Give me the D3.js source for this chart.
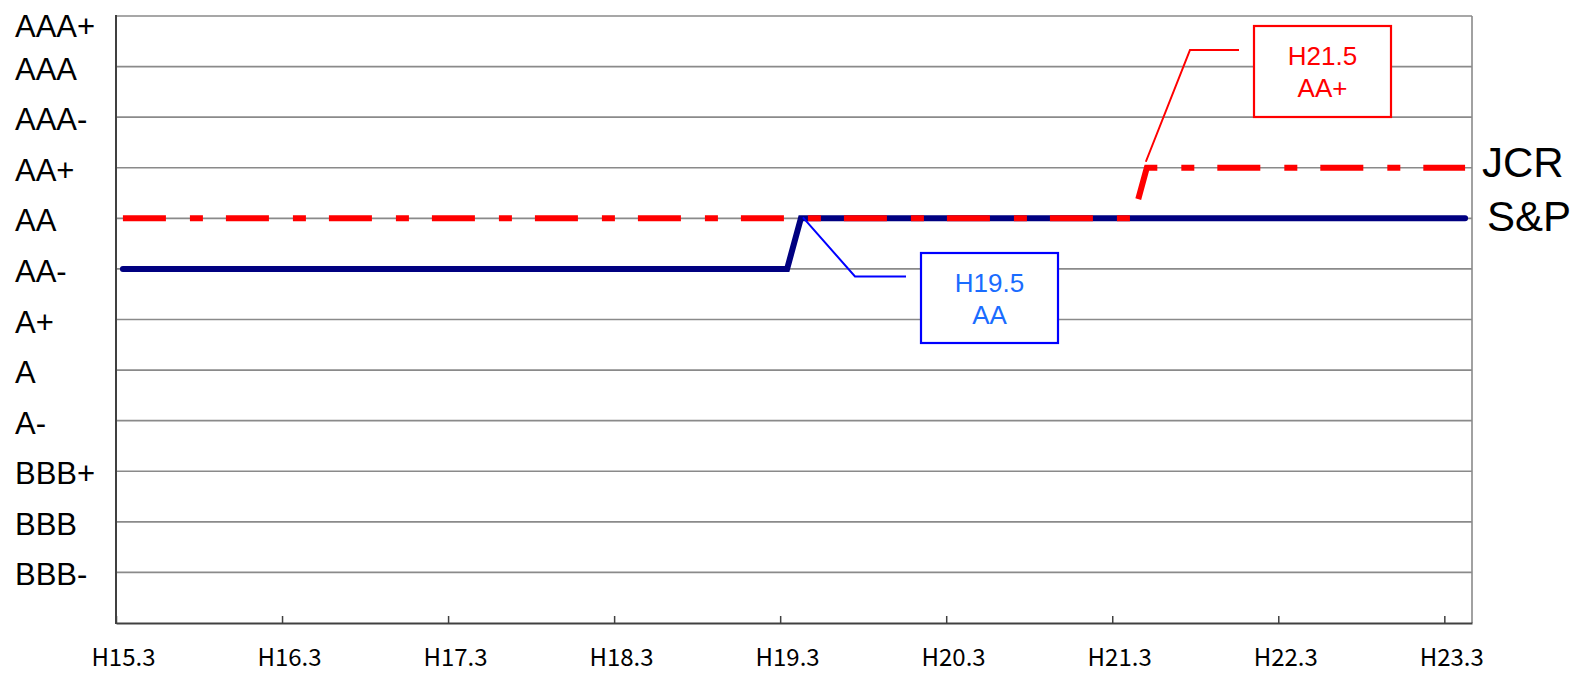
<!DOCTYPE html>
<html>
<head>
<meta charset="utf-8">
<script src="https://cdn.jsdelivr.net/npm/d3@7"></script>
<style>
  body { margin: 0; background: #fff; }
  svg { display: block; font-family: "Liberation Sans", Arial, sans-serif; }
</style>
</head>
<body>
<div id="chart"></div>
<script>
// rating scale, top to bottom
var ratings = ["AAA+", "AAA", "AAA-", "AA+", "AA", "AA-", "A+", "A", "A-", "BBB+", "BBB", "BBB-"];

// x axis tick labels (every March)
var tickLabels = ["H15.3", "H16.3", "H17.3", "H18.3", "H19.3", "H20.3", "H21.3", "H22.3", "H23.3"];

// S&P rating: vertices of the line (month, rating)
var spDates = ["H15.3", "H19.3", "H19.4", "H23.4"];
var spRatings = ["AA-", "AA-", "AA", "AA"];

// JCR rating
var jcrDates = ["H15.3", "H21.4", "H21.5", "H23.4"];
var jcrRatings = ["AA", "AA", "AA+", "AA+"];

var svgWidth = 1573;
var svgHeight = 673;

var margin = { top: 16, right: 101, bottom: 50, left: 116 };
var width = svgWidth - margin.left - margin.right;
var height = svgHeight - margin.top - margin.bottom;

var nMonths = 98;

// "H19.4" -> months since H15.3
function monthIndex(s) {
  var p = s.slice(1).split(".");
  return (+p[0] - 15) * 12 + (+p[1] - 3);
}

var svg = d3.select("#chart")
  .append("svg")
  .attr("width", svgWidth)
  .attr("height", svgHeight);

var chartGroup = svg.append("g")
  .attr("transform", `translate(${margin.left}, ${margin.top})`);

var xScale = d3.scaleLinear()
  .domain([0, nMonths])
  .range([0, width]);

var yScale = d3.scaleLinear()
  .domain([0, ratings.length])
  .range([0, height]);

// gridlines
chartGroup.selectAll(".grid")
  .data(ratings)
  .enter()
  .append("line")
  .attr("class", "grid")
  .attr("x1", 0)
  .attr("x2", width)
  .attr("y1", (d, i) => yScale(i))
  .attr("y2", (d, i) => yScale(i))
  .attr("stroke", "#8a8a8a")
  .attr("stroke-width", 1.6);

// right border
chartGroup.append("line")
  .attr("x1", width).attr("x2", width)
  .attr("y1", 0).attr("y2", height)
  .attr("stroke", "#8a8a8a")
  .attr("stroke-width", 1.6);

// y labels
chartGroup.selectAll(".ylab")
  .data(ratings)
  .enter()
  .append("text")
  .attr("class", "ylab")
  .attr("x", -margin.left + 15)
  .attr("y", (d, i) => Math.max(yScale(i), 8) + 13)
  .attr("font-size", "31px")
  .attr("fill", "#000")
  .text(d => d);

// bottom axis
var tickVals = tickLabels.map(monthIndex);
var bottomAxis = d3.axisBottom(xScale)
  .tickValues(tickVals)
  .tickSizeInner(-7)
  .tickSizeOuter(0)
  .tickFormat((d, i) => tickLabels[i]);

var xAxis = chartGroup.append("g")
  .attr("transform", `translate(0, ${height})`)
  .call(bottomAxis);

xAxis.select(".domain").attr("stroke", "#404040").attr("stroke-width", 2);
xAxis.selectAll(".tick line").attr("stroke", "#404040").attr("stroke-width", 1.5);
xAxis.selectAll(".tick text")
  .attr("x", xScale(0.5) - xScale(0))
  .attr("y", 43)
  .attr("dy", 0)
  .attr("font-size", "24px")
  .attr("font-family", "'Noto Sans CJK JP', sans-serif")
  .attr("fill", "#000");

// left axis line
chartGroup.append("line")
  .attr("x1", 0).attr("x2", 0)
  .attr("y1", -1).attr("y2", height + 1)
  .attr("stroke", "#404040")
  .attr("stroke-width", 2);

var line = d3.line()
  .x(d => xScale(monthIndex(d.date) + 0.5))
  .y(d => yScale(ratings.indexOf(d.rating)));

var spData = spDates.map((d, i) => ({ date: d, rating: spRatings[i] }));
var jcrData = jcrDates.map((d, i) => ({ date: d, rating: jcrRatings[i] }));

chartGroup.append("path")
  .datum(spData)
  .attr("d", line)
  .attr("fill", "none")
  .attr("stroke", "#000080")
  .attr("stroke-width", 6)
  .attr("stroke-linecap", "round");

chartGroup.append("path")
  .datum(jcrData)
  .attr("d", line)
  .attr("fill", "none")
  .attr("stroke", "#ff0000")
  .attr("stroke-width", 6)
  .attr("stroke-dasharray", "43,24,13,23");

// series labels at the right
chartGroup.append("text")
  .attr("x", width + 10)
  .attr("y", yScale(ratings.indexOf("AA+")) + 9)
  .attr("font-size", "42px")
  .text("JCR");

chartGroup.append("text")
  .attr("x", width + 15)
  .attr("y", yScale(ratings.indexOf("AA")) + 13)
  .attr("font-size", "42px")
  .text("S&P");

// callouts
function callout(anchor, pts, box, lines, color, textColor) {
  chartGroup.append("polyline")
    .attr("points", [anchor].concat(pts).map(p => p.join(",")).join(" "))
    .attr("fill", "none")
    .attr("stroke", color)
    .attr("stroke-width", 2);

  chartGroup.append("rect")
    .attr("x", box[0]).attr("y", box[1])
    .attr("width", box[2]).attr("height", box[3])
    .attr("fill", "#fff")
    .attr("stroke", color)
    .attr("stroke-width", 2.2);

  lines.forEach(function(t, i) {
    chartGroup.append("text")
      .attr("x", box[0] + box[2] / 2)
      .attr("y", box[1] + 39 + i * 31.5)
      .attr("text-anchor", "middle")
      .attr("font-size", "26px")
      .attr("fill", textColor)
      .text(t);
  });
}

var spChange = spData[2];
callout(
  [xScale(monthIndex(spChange.date) + 0.5) + 2, yScale(ratings.indexOf(spChange.rating)) - 1],
  [[739, 260.5], [790, 260.5]],
  [805, 237, 137, 90],
  ["H19.5", "AA"], "#0000ff", "#1a6cff");

var jcrChange = jcrData[2];
callout(
  [xScale(monthIndex(jcrChange.date) + 0.5) - 1, yScale(ratings.indexOf(jcrChange.rating)) - 6],
  [[1074, 34], [1123, 34]],
  [1138, 10, 137, 91],
  ["H21.5", "AA+"], "#ff0000", "#ff0000");
</script>
</body>
</html>
